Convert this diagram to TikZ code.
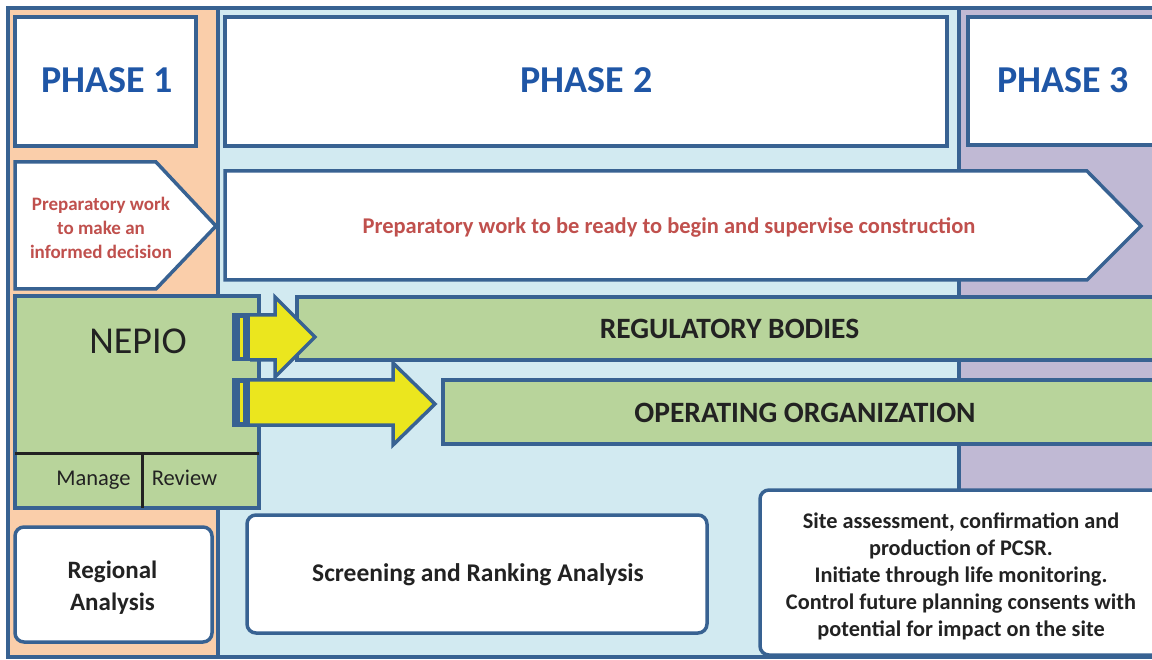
\documentclass[tikz,border=0pt]{standalone}
\usepackage{fontspec}
\setmainfont{Carlito}
\definecolor{bblue}{RGB}{56,98,146}
\definecolor{peach}{RGB}{250,206,170}
\definecolor{lblue}{RGB}{210,234,241}
\definecolor{lav}{RGB}{192,185,212}
\definecolor{gbar}{RGB}{184,212,155}
\definecolor{ylw}{RGB}{235,230,30}
\definecolor{tblue}{RGB}{31,86,166}
\definecolor{tred}{RGB}{192,80,77}
\definecolor{tblack}{RGB}{34,34,34}
\tikzset{
  bd/.style={draw=bblue, line width=3.5pt, line join=miter},
  titletxt/.style={text=tblue, inner sep=0pt, anchor=base, font=\fontsize{38}{44}\selectfont\bfseries},
  redtxt/.style={text=tred, align=center, inner sep=0pt},
  bartxt/.style={text=tblack, inner sep=0pt, anchor=base, font=\fontsize{29.5}{34}\selectfont\bfseries},
  softbox/.style={bd, fill=white, rounded corners=9pt},
  blktxt/.style={text=tblack, align=center, inner sep=0pt},
  regtxt/.style={text=tblack, inner sep=0pt, anchor=base},
  yarrow/.style={bd, fill=ylw, line join=miter},
}
\begin{document}
\begin{tikzpicture}[x=1pt,y=-1pt]
\useasboundingbox (0,0) rectangle (1152,660);
\clip (0,0) rectangle (1152,660);
% columns
\fill[peach] (8,8) rectangle (218,657);
\fill[lblue] (218,8) rectangle (959,657);
\fill[lav] (959,8) rectangle (1175,657);
\draw[bd] (218,8) -- (218,657);
\draw[bd] (959,8) -- (959,657);
\draw[bd] (8,8) rectangle (1175,657);
% phase titles
\draw[bd, fill=white] (15,17) rectangle (196,146);
\node[titletxt] (p1) at (107,93) {PHASE 1};
\draw[bd, fill=white] (225,17) rectangle (947,146);
\node[titletxt] (p2) at (586.5,93) {PHASE 2};
\draw[bd, fill=white] (968,17) rectangle (1180,145);
\node[titletxt] (p3) at (1063,93) {PHASE 3};
% preparatory arrows
\draw[bd, fill=white] (15,162) -- (156,162) -- (216,226) -- (156,289) -- (15,289) -- cycle;
\node[redtxt, font=\fontsize{19}{24}\selectfont\bfseries] (prep1) at (101,228) {Preparatory work\\to make an\\informed decision};
\draw[bd, fill=white] (225,171) -- (1087,171) -- (1141,226) -- (1087,280) -- (225,280) -- cycle;
\node[redtxt, anchor=base, font=\fontsize{22.5}{26}\selectfont\bfseries] (prep2) at (669,234) {Preparatory work to be ready to begin and supervise construction};
% bars
\draw[bd, fill=gbar] (297,297) rectangle (1180,360);
\node[bartxt] (reg) at (729.5,339) {REGULATORY BODIES};
\draw[bd, fill=gbar] (443,380) rectangle (1180,444);
\node[bartxt] (op) at (805,422) {OPERATING ORGANIZATION};
% NEPIO
\draw[bd, fill=gbar] (15,296) rectangle (259,508);
\node[regtxt, font=\fontsize{38}{44}\selectfont] (nepio) at (138,354) {NEPIO};
\draw[line width=3pt, tblack] (15,453) -- (259,453);
\draw[line width=3pt, tblack] (142,453) -- (142,508);
\node[regtxt, font=\fontsize{22.5}{26}\selectfont] (manage) at (93.5,485) {Manage};
\node[regtxt, font=\fontsize{22.5}{26}\selectfont] (review) at (184.5,485) {Review};
% yellow arrows
\fill[bblue] (232,313.5) rectangle (251,361.5);
\draw[ylw, line width=2.6pt] (241.3,318) -- (241.3,357);
\draw[yarrow] (250,315) -- (275,315) -- (275,297) -- (315,337) -- (275,377) -- (275,360) -- (250,360);
\fill[bblue] (232,378.5) rectangle (251,426.5);
\draw[ylw, line width=2.6pt] (241.3,383) -- (241.3,422);
\draw[yarrow] (250,380) -- (393,380) -- (393,363) -- (435,404) -- (393,445) -- (393,425) -- (250,425);
% bottom boxes
\draw[softbox] (15,527) rectangle (212,642);
\node[blktxt, font=\fontsize{25}{32}\selectfont\bfseries] (regional) at (112.5,588) {Regional\\Analysis};
\draw[softbox] (247,515) rectangle (707,633);
\node[regtxt, font=\fontsize{25.5}{30}\selectfont\bfseries] (screen) at (478,581) {Screening and Ranking Analysis};
\draw[softbox] (760,490) rectangle (1180,655);
\node[blktxt, font=\fontsize{22.3}{27}\selectfont\bfseries] (site) at (961,576) {Site assessment, confirmation and\\production of PCSR.\\Initiate through life monitoring.\\Control future planning consents with\\potential for impact on the site};
\end{tikzpicture}
\end{document}
